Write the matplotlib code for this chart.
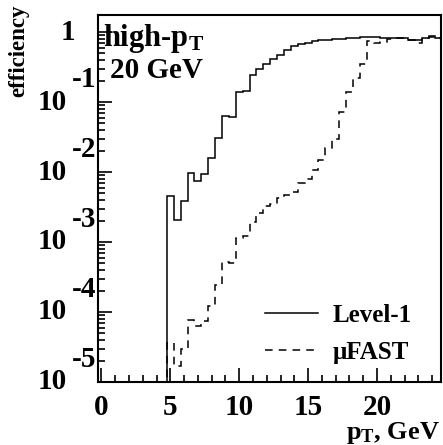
import numpy as np
import matplotlib
matplotlib.use("Agg")
import matplotlib.pyplot as plt
import matplotlib.transforms as mtransforms
from matplotlib.ticker import MultipleLocator, LogLocator, NullFormatter

# efficiency per 0.5 GeV bin, bins centred on 0, 0.5, ..., 24.5 GeV
bin_width = 0.5
level1 = [0, 0, 0, 0, 0, 0, 0, 0, 0, 0,
          4.5e-3, 2.06e-3, 3.86e-3, 9.8e-3, 7.5e-3, 9.4e-3, 1.57e-2, 3.03e-2, 6.4e-2, 6.2e-2,
          0.140, 0.142, 0.245, 0.295, 0.35, 0.41, 0.47, 0.55, 0.625, 0.674,
          0.70, 0.751, 0.77, 0.77, 0.80, 0.79, 0.83, 0.83, 0.86, 0.86,
          0.86, 0.82, 0.83, 0.83, 0.83, 0.77, 0.77, 0.83, 0.88, 0.83]
mufast = [0, 0, 0, 0, 0, 0, 0, 0, 0, 0,
          3.6e-5, 1.7e-5, 3.0e-5, 7.7e-5, 6.4e-5, 7.5e-5, 1.23e-4, 2.4e-4, 5.1e-4, 5.0e-4,
          1.13e-3, 1.2e-3, 1.95e-3, 2.6e-3, 3.3e-3, 3.5e-3, 4.2e-3, 4.7e-3, 5.2e-3, 6.9e-3,
          7.9e-3, 1.07e-2, 1.48e-2, 2.18e-2, 3.0e-2, 7.2e-2, 0.140, 0.218, 0.345, 0.74,
          0.70, 0.73, 0.79, 0.81, 0.81, 0.77, 0.69, 0.81, 0.85, 0.83]
labels = ["Level-1", "\u03bcFAST"]
x_ticks = [0, 5, 10, 15, 20]
y_ticks = [1e-5, 1e-4, 1e-3, 1e-2, 1e-1, 1]
y_exps = ["-5", "-4", "-3", "-2", "-1", ""]

plt.rcParams['font.family'] = ['Liberation Serif', 'DejaVu Serif']
plt.rcParams['font.weight'] = 'bold'
plt.rcParams['mathtext.fontset'] = 'custom'
plt.rcParams['mathtext.rm'] = 'Liberation Serif:bold'
plt.rcParams['mathtext.it'] = 'Liberation Serif:bold'
plt.rcParams['mathtext.bf'] = 'Liberation Serif:bold'

fig = plt.figure(figsize=(4.43, 4.45), dpi=100)
ax = fig.add_axes([0.2212, 0.1416, 0.7743, 0.8247])

edges = np.arange(len(level1) + 1) * bin_width - bin_width / 2
l1 = np.where(np.array(level1) > 0, level1, 1e-9)
mf = np.where(np.array(mufast) > 0, mufast, 1e-9)
ax.stairs(l1, edges, color='black', lw=1.1, label=labels[0])
ax.stairs(mf, edges, color='black', lw=1.1, ls=(0, (5, 4)), label=labels[1])

ax.set_yscale('log')
ax.set_xlim(-0.25, 24.65)
ax.set_ylim(1e-5, 1.75)

for s in ax.spines.values():
    s.set_linewidth(1.5)

ax.xaxis.set_major_locator(MultipleLocator(5))
ax.xaxis.set_minor_locator(MultipleLocator(1))
ax.set_xticks(x_ticks)
ax.set_xticklabels([str(t) for t in x_ticks], fontsize=21, fontweight='bold')
ax.yaxis.set_major_locator(LogLocator(base=10, numticks=10))
ax.yaxis.set_minor_locator(LogLocator(base=10, subs=np.arange(2, 10), numticks=20))
ax.yaxis.set_major_formatter(NullFormatter())
ax.yaxis.set_minor_formatter(NullFormatter())
ax.tick_params(which='both', direction='in', top=False, right=False, width=1.2)
ax.tick_params(which='major', length=10)
ax.tick_params(which='minor', length=5)
ax.tick_params(axis='x', which='major', pad=9)

# ROOT style y labels: "10" with raised exponent
tr = mtransforms.blended_transform_factory(fig.transFigure, ax.transData)
for v, e in zip(y_ticks, y_exps):
    if e == "":
        ax.text(0.1535, v, "1", transform=tr, ha='center', va='center',
                fontsize=21, fontweight='bold', clip_on=False)
    else:
        ax.text(0.152, v, "10", transform=tr, ha='right', va='center',
                fontsize=21, fontweight='bold', clip_on=False)
        ax.text(0.1625, v * 2.13, e, transform=tr, ha='left', va='center',
                fontsize=21, fontweight='bold', clip_on=False)

fig.text(0.042, 0.99, "efficiency", rotation=90, ha='center', va='top',
         fontsize=16.5, fontweight='bold')
fig.text(0.994, 0.028, r"p$_{T}$, GeV", ha='right', va='center',
         fontsize=19, fontweight='bold')

ax.text(0.015, 0.98, r"high-p$_{T}$", transform=ax.transAxes, ha='left', va='top',
        fontsize=22, fontweight='bold')
ax.text(0.035, 0.885, "20 GeV", transform=ax.transAxes, ha='left', va='top',
        fontsize=21, fontweight='bold')

ax.legend(loc='lower right', bbox_to_anchor=(0.98, -0.012), frameon=False,
          handlelength=2.1, handletextpad=0.6, labelspacing=0.55,
          prop={'weight': 'bold', 'size': 18})

fig.savefig("out.png", dpi=100)
